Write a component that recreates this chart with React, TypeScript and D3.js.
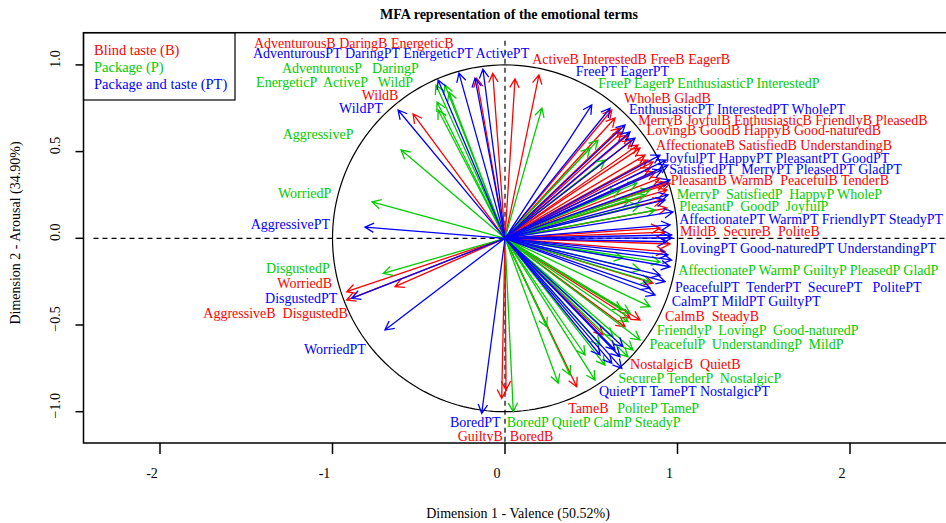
import React from 'react';
import * as d3 from 'd3';

// Coordinates of the emotional terms on the first two MFA dimensions
const blindTaste = [
  { term: 'AdventurousB', dim1: -0.164, dim2: 0.923 },
  { term: 'DaringB', dim1: -0.071, dim2: 0.951 },
  { term: 'EnergeticB', dim1: 0.058, dim2: 0.919 },
  { term: 'ActiveB', dim1: 0.197, dim2: 0.942 },
  { term: 'WildB', dim1: -0.533, dim2: 0.717 },
  { term: 'InterestedB', dim1: 0.619, dim2: 0.74 },
  { term: 'FreeB', dim1: 0.667, dim2: 0.636 },
  { term: 'EagerB', dim1: 0.678, dim2: 0.613 },
  { term: 'WholeB', dim1: 0.713, dim2: 0.596 },
  { term: 'GladB', dim1: 0.736, dim2: 0.567 },
  { term: 'MerryB', dim1: 0.771, dim2: 0.538 },
  { term: 'JoyfulB', dim1: 0.783, dim2: 0.52 },
  { term: 'EnthusiasticB', dim1: 0.638, dim2: 0.694 },
  { term: 'FriendlyB', dim1: 0.829, dim2: 0.451 },
  { term: 'PleasedB', dim1: 0.858, dim2: 0.44 },
  { term: 'LovingB', dim1: 0.841, dim2: 0.405 },
  { term: 'GoodB', dim1: 0.812, dim2: 0.48 },
  { term: 'HappyB', dim1: 0.87, dim2: 0.382 },
  { term: 'Good-naturedB', dim1: 0.899, dim2: 0.347 },
  { term: 'AffectionateB', dim1: 0.928, dim2: 0.318 },
  { term: 'SatisfiedB', dim1: 0.957, dim2: 0.318 },
  { term: 'UnderstandingB', dim1: 0.939, dim2: 0.279 },
  { term: 'PleasantB', dim1: 0.939, dim2: 0.174 },
  { term: 'WarmB', dim1: 0.91, dim2: 0.221 },
  { term: 'PeacefulB', dim1: 0.899, dim2: 0.059 },
  { term: 'TenderB', dim1: 0.928, dim2: 0.036 },
  { term: 'MildB', dim1: 0.928, dim2: -0.077 },
  { term: 'SecureB', dim1: 0.858, dim2: -0.258 },
  { term: 'PoliteB', dim1: 0.957, dim2: -0.033 },
  { term: 'CalmB', dim1: 0.725, dim2: -0.46 },
  { term: 'SteadyB', dim1: 0.783, dim2: -0.471 },
  { term: 'NostalgicB', dim1: 0.568, dim2: -0.557 },
  { term: 'QuietB', dim1: 0.696, dim2: -0.51 },
  { term: 'TameB', dim1: 0.416, dim2: -0.856 },
  { term: 'GuiltyB', dim1: -0.019, dim2: -0.923 },
  { term: 'BoredB', dim1: 0.006, dim2: -0.875 },
  { term: 'WorriedB', dim1: -0.918, dim2: -0.308 },
  { term: 'AggressiveB', dim1: -0.638, dim2: -0.279 },
  { term: 'DisgustedB', dim1: -0.918, dim2: -0.356 },
];

const packageOnly = [
  { term: 'AdventurousP', dim1: -0.4, dim2: 0.884 },
  { term: 'DaringP', dim1: -0.348, dim2: 0.884 },
  { term: 'EnergeticP', dim1: -0.394, dim2: 0.786 },
  { term: 'ActiveP', dim1: -0.388, dim2: 0.74 },
  { term: 'WildP', dim1: -0.325, dim2: 0.844 },
  { term: 'AggressiveP', dim1: -0.603, dim2: 0.51 },
  { term: 'WorriedP', dim1: -0.771, dim2: 0.21 },
  { term: 'DisgustedP', dim1: -0.706, dim2: -0.202 },
  { term: 'FreeP', dim1: 0.214, dim2: 0.751 },
  { term: 'EagerP', dim1: 0.493, dim2: 0.52 },
  { term: 'EnthusiasticP', dim1: 0.58, dim2: 0.451 },
  { term: 'InterestedP', dim1: 0.539, dim2: 0.566 },
  { term: 'MerryP', dim1: 0.765, dim2: 0.319 },
  { term: 'SatisfiedP', dim1: 0.841, dim2: 0.279 },
  { term: 'HappyP', dim1: 0.812, dim2: 0.25 },
  { term: 'WholeP', dim1: 0.667, dim2: 0.279 },
  { term: 'PleasantP', dim1: 0.783, dim2: 0.192 },
  { term: 'GoodP', dim1: 0.87, dim2: 0.163 },
  { term: 'JoyfulP', dim1: 0.725, dim2: 0.221 },
  { term: 'AffectionateP', dim1: 0.841, dim2: -0.25 },
  { term: 'WarmP', dim1: 0.783, dim2: -0.183 },
  { term: 'GuiltyP', dim1: 0.684, dim2: -0.114 },
  { term: 'PleasedP', dim1: 0.899, dim2: -0.137 },
  { term: 'GladP', dim1: 0.841, dim2: -0.394 },
  { term: 'FriendlyP', dim1: 0.677, dim2: -0.413 },
  { term: 'LovingP', dim1: 0.725, dim2: -0.431 },
  { term: 'Good-naturedP', dim1: 0.713, dim2: -0.481 },
  { term: 'PeacefulP', dim1: 0.713, dim2: -0.683 },
  { term: 'UnderstandingP', dim1: 0.742, dim2: -0.644 },
  { term: 'MildP', dim1: 0.783, dim2: -0.586 },
  { term: 'SecureP', dim1: 0.522, dim2: -0.818 },
  { term: 'TenderP', dim1: 0.626, dim2: -0.567 },
  { term: 'NostalgicP', dim1: 0.242, dim2: -0.51 },
  { term: 'PoliteP', dim1: 0.309, dim2: -0.836 },
  { term: 'TameP', dim1: 0.464, dim2: -0.673 },
  { term: 'BoredP', dim1: 0.048, dim2: -1.0 },
  { term: 'QuietP', dim1: 0.377, dim2: -0.788 },
  { term: 'CalmP', dim1: 0.58, dim2: -0.731 },
  { term: 'SteadyP', dim1: 0.551, dim2: -0.615 },
];

const packageAndTaste = [
  { term: 'AdventurousPT', dim1: -0.388, dim2: 0.913 },
  { term: 'DaringPT', dim1: -0.267, dim2: 0.953 },
  { term: 'EnergeticPT', dim1: -0.174, dim2: 0.924 },
  { term: 'ActivePT', dim1: -0.128, dim2: 0.976 },
  { term: 'WildPT', dim1: -0.62, dim2: 0.74 },
  { term: 'AggressivePT', dim1: -0.812, dim2: 0.065 },
  { term: 'DisgustedPT', dim1: -0.889, dim2: -0.346 },
  { term: 'WorriedPT', dim1: -0.696, dim2: -0.529 },
  { term: 'FreePT', dim1: 0.503, dim2: 0.769 },
  { term: 'EagerPT', dim1: 0.609, dim2: 0.75 },
  { term: 'EnthusiasticPT', dim1: 0.725, dim2: 0.613 },
  { term: 'InterestedPT', dim1: 0.696, dim2: 0.653 },
  { term: 'WholePT', dim1: 0.754, dim2: 0.578 },
  { term: 'JoyfulPT', dim1: 0.899, dim2: 0.48 },
  { term: 'HappyPT', dim1: 0.945, dim2: 0.422 },
  { term: 'PleasantPT', dim1: 0.91, dim2: 0.394 },
  { term: 'GoodPT', dim1: 0.933, dim2: 0.451 },
  { term: 'SatisfiedPT', dim1: 0.945, dim2: 0.25 },
  { term: 'MerryPT', dim1: 0.957, dim2: 0.336 },
  { term: 'PleasedPT', dim1: 0.928, dim2: 0.221 },
  { term: 'GladPT', dim1: 0.974, dim2: 0.152 },
  { term: 'AffectionatePT', dim1: 0.957, dim2: 0.077 },
  { term: 'WarmPT', dim1: 0.966, dim2: 0.019 },
  { term: 'FriendlyPT', dim1: 0.937, dim2: -0.02 },
  { term: 'SteadyPT', dim1: 0.968, dim2: 0.002 },
  { term: 'LovingPT', dim1: 0.966, dim2: -0.125 },
  { term: 'Good-naturedPT', dim1: 0.957, dim2: -0.164 },
  { term: 'UnderstandingPT', dim1: 0.945, dim2: -0.096 },
  { term: 'PeacefulPT', dim1: 0.928, dim2: -0.25 },
  { term: 'TenderPT', dim1: 0.87, dim2: -0.327 },
  { term: 'SecurePT', dim1: 0.899, dim2: -0.212 },
  { term: 'PolitePT', dim1: 0.841, dim2: -0.287 },
  { term: 'CalmPT', dim1: 0.684, dim2: -0.625 },
  { term: 'MildPT', dim1: 0.667, dim2: -0.683 },
  { term: 'GuiltyPT', dim1: 0.619, dim2: -0.721 },
  { term: 'QuietPT', dim1: 0.677, dim2: -0.75 },
  { term: 'TamePT', dim1: 0.551, dim2: -0.673 },
  { term: 'NostalgicPT', dim1: 0.638, dim2: -0.644 },
  { term: 'BoredPT', dim1: -0.135, dim2: -1.009 },
];

// Term labels, written as rows anchored (left, middle) in plot units
const labelRows = [
  { group: 'B', text: 'AdventurousB DaringB EnergeticB', dim1: -1.455, dim2: 1.126 },
  { group: 'PT', text: 'AdventurousPT DaringPT EnergeticPT ActivePT', dim1: -1.461, dim2: 1.063 },
  { group: 'P', text: 'AdventurousP   DaringP', dim1: -1.293, dim2: 0.98 },
  { group: 'P', text: 'EnergeticP  ActiveP   WildP', dim1: -1.443, dim2: 0.9 },
  { group: 'B', text: 'WildB', dim1: -0.831, dim2: 0.826 },
  { group: 'PT', text: 'WildPT', dim1: -0.962, dim2: 0.746 },
  { group: 'P', text: 'AggressiveP', dim1: -1.289, dim2: 0.596 },
  { group: 'P', text: 'WorriedP', dim1: -1.316, dim2: 0.261 },
  { group: 'PT', text: 'AggressivePT', dim1: -1.474, dim2: 0.077 },
  { group: 'P', text: 'DisgustedP', dim1: -1.386, dim2: -0.173 },
  { group: 'B', text: 'WorriedB', dim1: -1.32, dim2: -0.26 },
  { group: 'PT', text: 'DisgustedPT', dim1: -1.391, dim2: -0.346 },
  { group: 'B', text: 'AggressiveB  DisgustedB', dim1: -1.749, dim2: -0.433 },
  { group: 'PT', text: 'WorriedPT', dim1: -1.165, dim2: -0.644 },
  { group: 'B', text: 'ActiveB InterestedB FreeB EagerB', dim1: 0.158, dim2: 1.034 },
  { group: 'PT', text: 'FreePT EagerPT', dim1: 0.41, dim2: 0.961 },
  { group: 'P', text: 'FreeP EagerP EnthusiasticP InterestedP', dim1: 0.541, dim2: 0.894 },
  { group: 'B', text: 'WholeB GladB', dim1: 0.69, dim2: 0.807 },
  { group: 'PT', text: 'EnthusiasticPT InterestedPT WholePT', dim1: 0.719, dim2: 0.744 },
  { group: 'B', text: 'MerryB JoyfulB EnthusiasticB FriendlyB PleasedB', dim1: 0.773, dim2: 0.682 },
  { group: 'B', text: 'LovingB GoodB HappyB Good-naturedB', dim1: 0.821, dim2: 0.619 },
  { group: 'B', text: 'AffectionateB SatisfiedB UnderstandingB', dim1: 0.875, dim2: 0.538 },
  { group: 'PT', text: 'JoyfulPT HappyPT PleasantPT GoodPT', dim1: 0.922, dim2: 0.461 },
  { group: 'PT', text: 'SatisfiedPT  MerryPT PleasedPT GladPT', dim1: 0.952, dim2: 0.394 },
  { group: 'B', text: 'PleasantB WarmB  PeacefulB TenderB', dim1: 0.961, dim2: 0.332 },
  { group: 'P', text: 'MerryP  SatisfiedP  HappyP WholeP', dim1: 0.995, dim2: 0.255 },
  { group: 'P', text: 'PleasantP  GoodP  JoyfulP', dim1: 1.01, dim2: 0.182 },
  { group: 'PT', text: 'AffectionatePT WarmPT FriendlyPT SteadyPT', dim1: 1.01, dim2: 0.106 },
  { group: 'B', text: 'MildB  SecureB  PoliteB', dim1: 1.014, dim2: 0.038 },
  { group: 'PT', text: 'LovingPT Good-naturedPT UnderstandingPT', dim1: 1.014, dim2: -0.058 },
  { group: 'P', text: 'AffectionateP WarmP GuiltyP PleasedP GladP', dim1: 1.005, dim2: -0.187 },
  { group: 'PT', text: 'PeacefulPT  TenderPT  SecurePT   PolitePT', dim1: 0.986, dim2: -0.283 },
  { group: 'PT', text: 'CalmPT MildPT GuiltyPT', dim1: 0.966, dim2: -0.366 },
  { group: 'B', text: 'CalmB  SteadyB', dim1: 0.928, dim2: -0.452 },
  { group: 'P', text: 'FriendlyP  LovingP  Good-naturedP', dim1: 0.879, dim2: -0.533 },
  { group: 'P', text: 'PeacefulP  UnderstandingP  MildP', dim1: 0.837, dim2: -0.615 },
  { group: 'B', text: 'NostalgicB  QuietB', dim1: 0.725, dim2: -0.73 },
  { group: 'P', text: 'SecureP TenderP  NostalgicP', dim1: 0.657, dim2: -0.807 },
  { group: 'PT', text: 'QuietPT TamePT NostalgicPT', dim1: 0.545, dim2: -0.884 },
  { group: 'B', text: 'TameB', dim1: 0.367, dim2: -0.984 },
  { group: 'P', text: 'PoliteP TameP', dim1: 0.651, dim2: -0.984 },
  { group: 'PT', text: 'BoredPT', dim1: -0.319, dim2: -1.063 },
  { group: 'P', text: 'BoredP QuietP CalmP SteadyP', dim1: 0.01, dim2: -1.063 },
  { group: 'B', text: 'GuiltyB  BoredB', dim1: -0.274, dim2: -1.144 },
];

const legendItems = [
  { group: 'B', label: 'Blind taste (B)' },
  { group: 'P', label: 'Package (P)' },
  { group: 'PT', label: 'Package and taste (PT)' },
];

const xTicks = [-2, -1, 0, 1, 2];
const yTicks = [-1.0, -0.5, 0.0, 0.5, 1.0];

const groupColor: Record<string, string> = { B: '#ff0000', P: '#00cd00', PT: '#0000ff' };

const W = 946;
const H = 523;
const FONT = '"Liberation Serif", "Times New Roman", serif';

export default function App() {
  const box = { left: 83.5, right: 950, top: 32.7, bottom: 443 };
  const pxPerUnitX = 172.5;
  const pxPerUnitY = 173.4;
  const x0 = 505;
  const y0 = 238.3;
  const x = d3
    .scaleLinear()
    .domain([(box.left - x0) / pxPerUnitX, (box.right - x0) / pxPerUnitX])
    .range([box.left, box.right]);
  const y = d3
    .scaleLinear()
    .domain([(y0 - box.bottom) / pxPerUnitY, (y0 - box.top) / pxPerUnitY])
    .range([box.bottom, box.top]);

  const circle = d3.range(0, 361, 2).map((deg) => {
    const a = (deg * Math.PI) / 180;
    return [x(Math.cos(a)), y(Math.sin(a))] as [number, number];
  });
  const circlePath = d3.line()(circle) || '';

  const arrowPath = (d: { dim1: number; dim2: number }) => {
    const sx = x(0), sy = y(0);
    const ex = x(d.dim1), ey = y(d.dim2);
    const ang = Math.atan2(ey - sy, ex - sx);
    const len = 10;
    const spread = (28 * Math.PI) / 180;
    const p = d3.path();
    p.moveTo(sx, sy);
    p.lineTo(ex, ey);
    p.moveTo(ex - len * Math.cos(ang - spread), ey - len * Math.sin(ang - spread));
    p.lineTo(ex, ey);
    p.lineTo(ex - len * Math.cos(ang + spread), ey - len * Math.sin(ang + spread));
    return p.toString();
  };

  const series = [
    { group: 'B', data: blindTaste },
    { group: 'P', data: packageOnly },
    { group: 'PT', data: packageAndTaste },
  ];

  return (
    <svg
      width={W}
      height={H}
      style={{ position: 'absolute', left: 0, top: 0, background: '#fff' }}
      fontFamily={FONT}
    >
      <rect x={0} y={0} width={W} height={H} fill="#fff" />
      <text x={509} y={19} textAnchor="middle" fontSize={14} fontWeight="bold">
        MFA representation of the emotional terms
      </text>

      <defs>
        <clipPath id="plotClip">
          <rect x={box.left} y={box.top} width={box.right - box.left} height={box.bottom - box.top} />
        </clipPath>
      </defs>

      <g clipPath="url(#plotClip)">
        <line x1={box.left + 10} x2={box.right} y1={y(0)} y2={y(0)} stroke="#000" strokeDasharray="5,4" strokeWidth={1.2} />
        <line x1={x(0)} x2={x(0)} y1={box.top + 8} y2={box.bottom} stroke="#000" strokeDasharray="5,4" strokeWidth={1.2} />
        <path d={circlePath} fill="none" stroke="#000" strokeWidth={1.2} />
        {series.map((s) => (
          <g key={s.group} stroke={groupColor[s.group]} fill="none" strokeWidth={1.3}>
            {s.data.map((d) => (
              <path key={d.term} d={arrowPath(d)} />
            ))}
          </g>
        ))}
        {labelRows.map((r, i) => (
          <text
            key={i}
            x={x(r.dim1)}
            y={y(r.dim2)}
            dominantBaseline="central"
            fontSize={14}
            fill={groupColor[r.group]}
            style={{ whiteSpace: 'pre' }}
          >
            {r.text}
          </text>
        ))}
      </g>

      {/* legend */}
      <rect x={box.left} y={box.top} width={151.5} height={67.3} fill="#fff" stroke="#000" strokeWidth={1.2} />
      {legendItems.map((l, i) => (
        <text
          key={l.group}
          x={94}
          y={50 + i * 16.8}
          dominantBaseline="central"
          fontSize={14.5}
          fill={groupColor[l.group]}
        >
          {l.label}
        </text>
      ))}

      {/* plot frame */}
      <rect
        x={box.left}
        y={box.top}
        width={box.right - box.left}
        height={box.bottom - box.top}
        fill="none"
        stroke="#000"
        strokeWidth={1.5}
      />

      {/* x axis */}
      {xTicks.map((t) => (
        <g key={t}>
          <line x1={x(t)} x2={x(t)} y1={box.bottom} y2={box.bottom + 11} stroke="#000" strokeWidth={1.5} />
          <text x={x(t) - 8} y={box.bottom + 30} textAnchor="middle" dominantBaseline="central" fontSize={14}>
            {t}
          </text>
        </g>
      ))}
      {/* y axis */}
      {yTicks.map((t) => (
        <g key={t}>
          <line x1={box.left - 8} x2={box.left} y1={y(t)} y2={y(t)} stroke="#000" strokeWidth={1.5} />
          <text
            transform={`translate(${box.left - 28},${y(t) - 6}) rotate(-90)`}
            textAnchor="middle"
            dominantBaseline="central"
            fontSize={14}
          >
            {d3.format('.1f')(t)}
          </text>
        </g>
      ))}

      <text x={518} y={513} textAnchor="middle" dominantBaseline="central" fontSize={14}>
        Dimension 1 - Valence (50.52%)
      </text>
      <text
        transform={`translate(15,233) rotate(-90)`}
        textAnchor="middle"
        dominantBaseline="central"
        fontSize={14}
      >
        Dimension 2 - Arousal (34.90%)
      </text>
    </svg>
  );
}
